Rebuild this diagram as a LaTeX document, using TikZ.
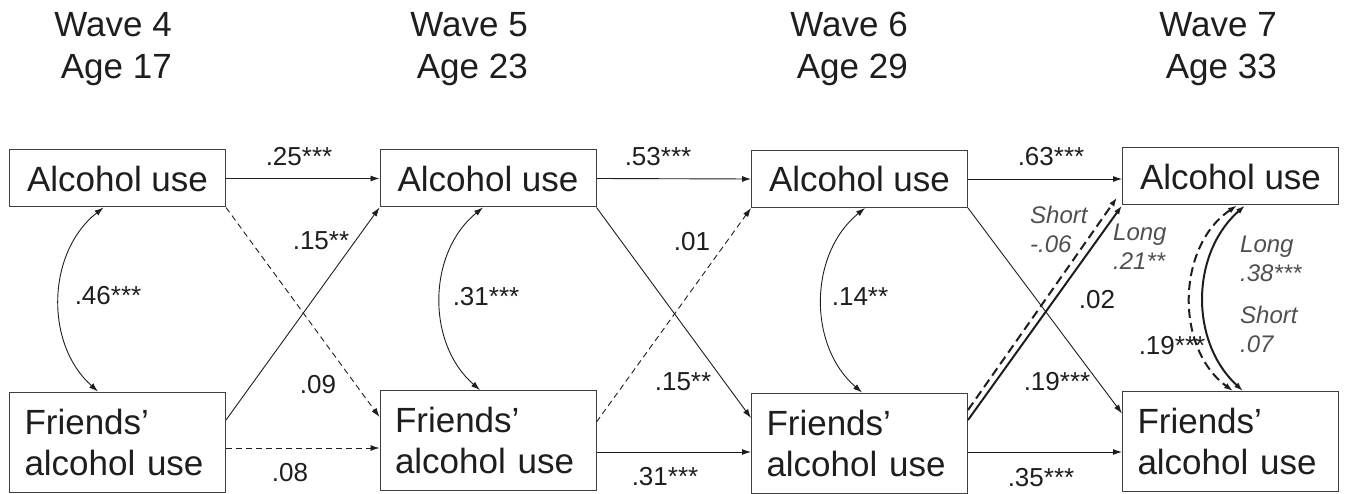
\documentclass[tikz,border=0pt]{standalone}
\usepackage{fontspec}
\setmainfont{Liberation Sans}
\usetikzlibrary{arrows.meta}
\definecolor{ink}{HTML}{1E1E1E}
\definecolor{boxc}{HTML}{404040}
\definecolor{gl}{HTML}{505050}
\begin{document}
\begin{tikzpicture}[x=1pt,y=-1pt,
  abox/.style={draw=boxc, line width=1pt, minimum width=216pt, minimum height=57pt, inner sep=0pt, font=\fontsize{35}{41}\selectfont, text=ink},
  fbox/.style={draw=boxc, line width=1pt, minimum width=216pt, minimum height=100pt, text width=186pt, align=left, inner xsep=15pt, inner ysep=0pt, font=\fontsize{35}{41}\selectfont, text=ink},
  lab/.style={inner sep=0pt, font=\fontsize{26}{30}\selectfont, text=ink},
  ilab/.style={inner sep=0pt, font=\fontsize{24}{29}\selectfont\itshape, text=gl, align=left, anchor=west},
  hdr/.style={inner sep=0pt, font=\fontsize{35}{42}\selectfont, text=ink, align=right, anchor=north east},
  arr/.style={draw=ink, line width=0.9pt, -{Latex[length=9pt,width=6pt]}},
  corr/.style={draw=ink, line width=0.9pt, {Latex[length=9pt,width=6pt]}-{Latex[length=9pt,width=6pt]}},
  dsh/.style={dash pattern=on 6pt off 4pt},
  dshb/.style={dash pattern=on 9pt off 5pt},
  thk/.style={line width=2pt}
]
\useasboundingbox (0,0) rectangle (1346,494);

% headers
\node[hdr] (h4) at (172,12) {Wave 4\\Age 17};
\node[hdr] (h5) at (528,12) {Wave 5\\Age 23};
\node[hdr] (h6) at (908,12) {Wave 6\\Age 29};
\node[hdr] (h7) at (1277,12) {Wave 7\\Age 33};

% boxes
\node[abox] (A1) at (117.5,178.5) {Alcohol use};
\node[abox] (A2) at (488,178.5) {Alcohol use};
\node[abox] (A3) at (859.5,179) {Alcohol use};
\node[abox] (A4) at (1230.5,176.5) {Alcohol use};
\node[fbox] (F1) at (117.5,442) {Friends'\\alcohol use};
\node[fbox] (F2) at (488,440.5) {Friends'\\alcohol use};
\node[fbox] (F3) at (859.5,443) {Friends'\\alcohol use};
\node[fbox] (F4) at (1230.5,441.5) {Friends'\\alcohol use};

% stability paths
\draw[arr] (A1.east) -- (A2.west);
\draw[arr] (A2.east) -- (A3.west);
\draw[arr] (A3.east) -- (A4.west |- A3.east);
\draw[arr,dsh] ([yshift=-6pt]F1.east) -- ([yshift=-7.5pt]F2.west);
\draw[arr] ([yshift=-11.5pt]F2.east) -- ([yshift=-9pt]F3.west);
\draw[arr] ([yshift=-9pt]F3.east) -- ([yshift=-10.5pt]F4.west);

% cross-lagged paths
\draw[arr,dsh] (A1.south east) -- ([yshift=23.5pt]F2.west);
\draw[arr] ([yshift=22pt]F1.east) -- (A2.south west);
\draw[arr] (A2.south east) -- ([yshift=25pt]F3.west);
\draw[arr,dsh] ([yshift=18.5pt]F2.east) -- (A3.south west);
\draw[arr] (A3.south east) -- ([yshift=28pt]F4.west);
\draw[arr,thk] ([yshift=23pt]F3.east) -- (A4.south west);
\draw[arr,thk,dshb] ([yshift=33pt]F3.east) -- ([shift={(-5pt,8pt)}]A4.south west);

% correlations
\draw[corr] ([xshift=-14pt]A1.south) to[bend right=50] ([xshift=-19.5pt]F1.north);
\draw[corr] ([xshift=-5pt]A2.south) to[bend right=50] ([xshift=-8pt]F2.north);
\draw[corr] ([xshift=5.5pt]A3.south) to[bend right=50] ([xshift=2.5pt]F3.north);
\draw[corr,thk] ([xshift=14.5pt]A4.south) to[bend right=48] ([xshift=12.5pt]F4.north);
\draw[corr,thk,dshb] ([xshift=6.5pt]A4.south) to[bend right=55] ([xshift=2.5pt]F4.north);

% labels
\node[lab] (l1) at (299,157) {.25***};
\node[lab] (l2) at (321,241) {.15**};
\node[lab] (l3) at (108,296) {.46***};
\node[lab] (l4) at (318,385) {.09};
\node[lab] (l5) at (290,473) {.08};
\node[lab] (l6) at (658,157) {.53***};
\node[lab] (l7) at (692,242) {.01};
\node[lab] (l8) at (486,297) {.31***};
\node[lab] (l9) at (860,297) {.14**};
\node[lab] (l10) at (683,382) {.15**};
\node[lab] (l11) at (665,477) {.31***};
\node[lab] (l12) at (1051,157) {.63***};
\node[lab] (l13) at (1097,300) {.02};
\node[lab] (l14) at (1172,346) {.19***};
\node[lab] (l15) at (1057,382) {.19***};
\node[lab] (l16) at (1041,478) {.35***};
\node[ilab] (s1) at (1030,229) {Short\\-.06};
\node[ilab] (s2) at (1113,247) {Long\\.21**};
\node[ilab] (s3) at (1240,259) {Long\\.38***};
\node[ilab] (s4) at (1240,329) {Short\\.07};
\end{tikzpicture}
\end{document}
